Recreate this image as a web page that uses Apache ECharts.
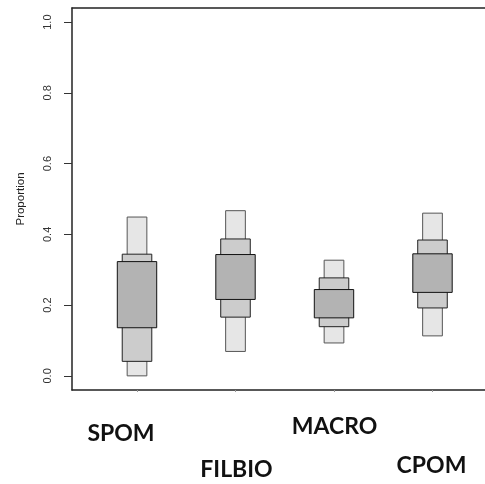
<!DOCTYPE html>
<html>
<head>
<meta charset="utf-8">
<script src="https://cdn.jsdelivr.net/npm/echarts@6/dist/echarts.min.js"></script>
<style>
  html, body { margin: 0; padding: 0; background: #fff; }
  #chart { width: 485px; height: 484px; }
</style>
</head>
<body>
<div id="chart"></div>
<script>
// Source groups and credible-interval bounds of their proportions
var categories = ['SPOM', 'FILBIO', 'MACRO', 'CPOM'];
var low95  = [0.000, 0.069, 0.093, 0.113];
var low75  = [0.041, 0.166, 0.139, 0.192];
var low50  = [0.136, 0.216, 0.164, 0.236];
var high50 = [0.323, 0.343, 0.244, 0.345];
var high75 = [0.344, 0.387, 0.277, 0.384];
var high95 = [0.449, 0.467, 0.327, 0.460];
var yTicks = [0, 0.2, 0.4, 0.6, 0.8, 1.0];
var xTicks = [1, 2, 3, 4];

var boxData = categories.map(function (c, i) {
  return [i + 1, low95[i], low75[i], low50[i], high50[i], high75[i], high95[i]];
});

// half-widths (in x units) and colours of the nested boxes: 95%, 75%, 50%
var bands = [
  { lo: 1, hi: 6, half: 0.10, fill: '#e6e6e6', stroke: '#555555' },
  { lo: 2, hi: 5, half: 0.15, fill: '#cccccc', stroke: '#222222' },
  { lo: 3, hi: 4, half: 0.20, fill: '#b3b3b3', stroke: '#111111' }
];

// pixel offsets of each group name from its tick, below the frame
var nameOffsets = [[-16, 43.3], [1, 79.5], [0.5, 36.7], [-1, 76]];

function renderItem(params, api) {
  var x = api.value(0);
  var children = bands.map(function (b) {
    var p1 = api.coord([x - b.half, api.value(b.hi)]);
    var p2 = api.coord([x + b.half, api.value(b.lo)]);
    return {
      type: 'rect',
      shape: { x: p1[0], y: p1[1], width: p2[0] - p1[0], height: p2[1] - p1[1] },
      style: { fill: b.fill, stroke: b.stroke, lineWidth: 1 }
    };
  });
  return { type: 'group', children: children };
}

var X_MIN = 0.34, X_MAX = 4.533;
var Y_MIN = -0.04, Y_MAX = 1.04;
var frameLine = { show: true, onZero: false, lineStyle: { color: '#222', width: 1.5 } };

var chart = echarts.init(document.getElementById('chart'), null, { renderer: 'canvas' });
chart.setOption({
  animation: false,
  backgroundColor: '#fff',
  grid: { left: 72, top: 8, right: 0, height: 382, show: false },
  xAxis: [{
    type: 'value', min: X_MIN, max: X_MAX, position: 'bottom',
    splitLine: { show: false },
    axisLine: frameLine,
    axisTick: { show: true, customValues: xTicks, length: 2, lineStyle: { color: '#999' } },
    axisLabel: { show: false }
  }, {
    // top edge of the frame
    type: 'value', min: X_MIN, max: X_MAX, position: 'top',
    splitLine: { show: false },
    axisLine: frameLine,
    axisTick: { show: false },
    axisLabel: { show: false }
  }],
  yAxis: {
    type: 'value', min: Y_MIN, max: Y_MAX,
    name: 'Proportion', nameLocation: 'middle', nameGap: 45, nameRotate: 90,
    nameTextStyle: { fontFamily: 'Liberation Sans', fontSize: 11.5, color: '#222' },
    splitLine: { show: false },
    axisLine: frameLine,
    axisTick: { show: true, customValues: yTicks, length: 8, lineStyle: { color: '#333' } },
    axisLabel: {
      show: true, customValues: yTicks, rotate: 90, margin: 19,
      fontFamily: 'Liberation Sans', fontSize: 11, color: '#333',
      formatter: function (v) { return v.toFixed(1); }
    }
  },
  series: [{
    type: 'custom',
    renderItem: renderItem,
    data: boxData,
    encode: { x: 0, y: [1, 2, 3, 4, 5, 6] },
    silent: true
  }]
});

// group names placed under their ticks
var baseY = chart.convertToPixel({ yAxisIndex: 0 }, Y_MIN);
chart.setOption({
  graphic: categories.map(function (name, i) {
    var px = chart.convertToPixel({ xAxisIndex: 0 }, xTicks[i]);
    return {
      type: 'text',
      x: px + nameOffsets[i][0],
      y: baseY + nameOffsets[i][1],
      silent: true,
      style: {
        text: name, align: 'center', verticalAlign: 'middle',
        font: 'bold 23px Lato', fill: '#111'
      }
    };
  })
});
</script>
</body>
</html>
